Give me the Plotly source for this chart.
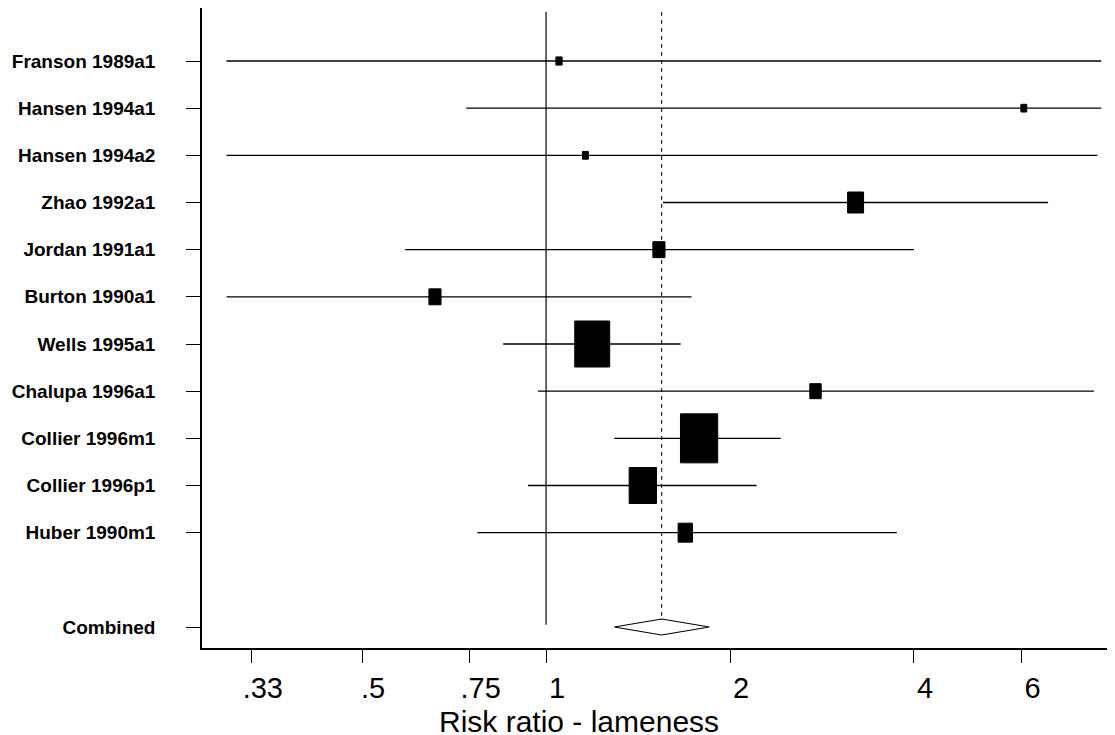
import plotly.graph_objects as go
import numpy as np

studies = ["Franson 1989a1", "Hansen 1994a1", "Hansen 1994a2", "Zhao 1992a1",
           "Jordan 1991a1", "Burton 1990a1", "Wells 1995a1", "Chalupa 1996a1",
           "Collier 1996m1", "Collier 1996p1", "Huber 1990m1"]
rr = [1.05, 6.05, 1.16, 3.21, 1.53, 0.658, 1.19, 2.76, 1.78, 1.44, 1.69]
ci_low = [0.300, 0.740, 0.300, 1.554, 0.588, 0.300, 0.851, 0.970, 1.293, 0.934, 0.772]
ci_high = [8.10, 8.10, 7.98, 6.63, 4.0, 1.73, 1.66, 7.88, 2.42, 2.21, 3.75]
weights = [0.9, 0.8, 0.8, 5.9, 3.4, 3.4, 28.3, 3.0, 32.1, 17.3, 4.8]

combined_label = "Combined"
combined_rr = 1.546
combined_low = 1.293
combined_high = 1.850

xtick_vals = [0.33, 0.5, 0.75, 1, 2, 4, 6]
xtick_text = [".33", ".5", ".75", "1", "2", "4", "6"]
x_title = "Risk ratio - lameness"

# ---- layout geometry (page body has an 8px margin) ----
W, H = 1107, 727
ML, MR, MT, MB = 194, 0, 0, 87
xr = [-0.563, 0.931]          # log10 range
yr = [13.445, -0.1236]        # reversed rows
px_per_dec = (W - ML - MR) / (xr[1] - xr[0])
px_per_row = (H - MT - MB) / (yr[0] - yr[1])

rows = list(range(1, len(studies) + 1))
comb_row = len(studies) + 2

# CI lines
lx, ly = [], []
for lo, hi, r in zip(ci_low, ci_high, rows):
    lx += [lo, hi, None]
    ly += [r, r, None]

# Boxes sized by weight (area ~ weight)
bx, by = [], []
wmax = max(weights)
for est, w, r in zip(rr, weights, rows):
    h_px = 49 * np.sqrt(w / wmax)
    w_px = 0.76 * h_px
    dxl = 10 ** (w_px / 2 / px_per_dec)
    dy = h_px / 2 / px_per_row
    x0, x1 = est / dxl, est * dxl
    bx += [x0, x1, x1, x0, x0, None]
    by += [r - dy, r - dy, r + dy, r + dy, r - dy, None]

fig = go.Figure()
fig.add_trace(go.Scatter(x=lx, y=ly, mode="lines",
                         line=dict(color="black", width=1.4), hoverinfo="skip"))
fig.add_trace(go.Scatter(x=bx, y=by, mode="lines", fill="toself",
                         fillcolor="black", line=dict(color="black", width=1),
                         hoverinfo="skip"))

# reference lines
top_row = -0.04
fig.add_trace(go.Scatter(x=[1, 1], y=[top_row, comb_row - 0.05], mode="lines",
                         line=dict(color="black", width=1.2), hoverinfo="skip"))
dh = 8 / px_per_row
fig.add_trace(go.Scatter(x=[combined_rr, combined_rr], y=[top_row, comb_row - dh],
                         mode="lines",
                         line=dict(color="black", width=1, dash="4px,4px"),
                         hoverinfo="skip"))
# diamond
fig.add_trace(go.Scatter(x=[combined_low, combined_rr, combined_high, combined_rr, combined_low],
                         y=[comb_row, comb_row - dh, comb_row, comb_row + dh, comb_row],
                         mode="lines", fill="toself", fillcolor="white",
                         line=dict(color="black", width=1.2), hoverinfo="skip"))

fig.update_layout(
    width=W, height=H, showlegend=False,
    margin=dict(l=ML, r=MR, t=MT, b=MB, autoexpand=False),
    plot_bgcolor="white", paper_bgcolor="white",
    font=dict(family="Liberation Sans, Arial", color="black"),
)
fig.update_xaxes(type="log", range=xr, tickvals=xtick_vals, ticktext=xtick_text,
                 ticks="outside", ticklen=13, tickwidth=1, tickcolor="black",
                 showline=True, linecolor="black", linewidth=1.5,
                 showgrid=False, zeroline=False,
                 tickfont=dict(size=29, family="Liberation Sans, Arial"),
                 ticklabelstandoff=0, ticklabelshift=11)
fig.update_yaxes(range=yr, tickvals=rows + [comb_row], ticktext=studies + [combined_label],
                 ticks="outside", ticklen=14, tickwidth=1, tickcolor="black",
                 showline=True, linecolor="black", linewidth=1.5,
                 showgrid=False, zeroline=False,
                 tickfont=dict(size=19, family="Liberation Sans, Arial", weight="bold"),
                 ticklabelstandoff=27)
plot_h = H - MT - MB
fig.add_annotation(text=x_title, xref="paper", yref="paper",
                   x=(578.5 - 8 - ML) / (W - ML - MR), y=-(713 - plot_h) / plot_h,
                   xanchor="center", yanchor="middle", showarrow=False,
                   font=dict(size=30, family="Liberation Sans, Arial"))

fig.write_html("out.html")
